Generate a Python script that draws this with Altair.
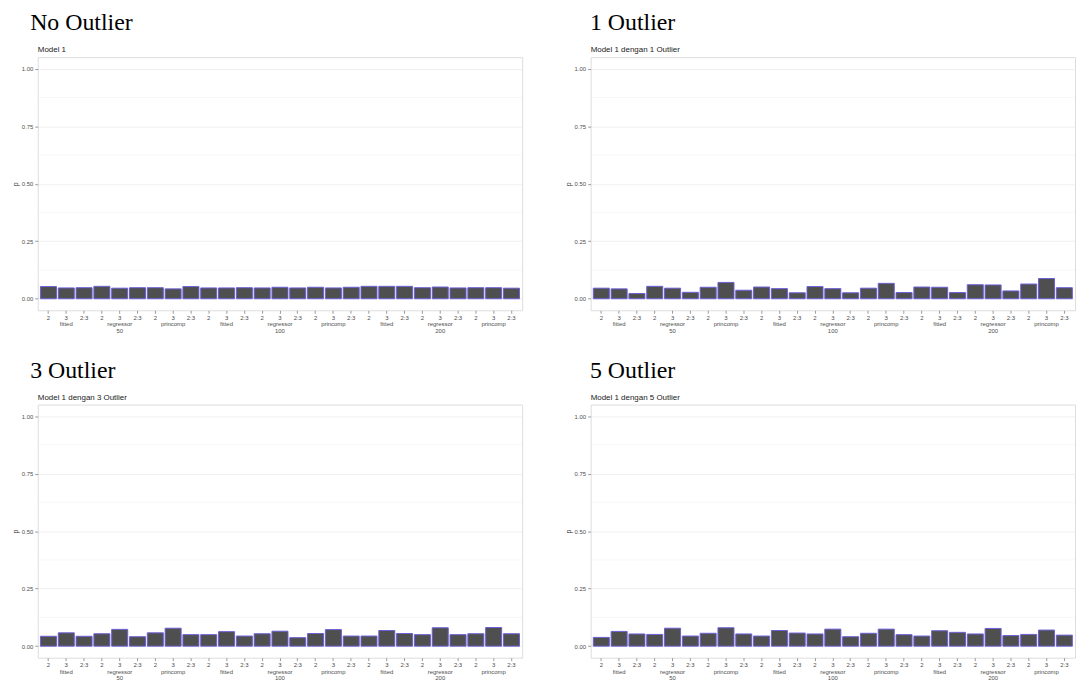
import altair as alt
import pandas as pd

panel_titles = ["No Outlier", "1 Outlier", "3 Outlier", "5 Outlier"]
panel_subtitles = ["Model 1", "Model 1 dengan 1 Outlier",
                   "Model 1 dengan 3 Outlier", "Model 1 dengan 5 Outlier"]
terms = ["2", "3", "2:3"]
methods = ["fitted", "regressor", "princomp"]
sizes = ["50", "100", "200"]

p_none = [0.053, 0.047, 0.048, 0.054, 0.046, 0.048, 0.048, 0.043, 0.053,
          0.047, 0.047, 0.048, 0.047, 0.050, 0.047, 0.050, 0.047, 0.050,
          0.054, 0.054, 0.054, 0.048, 0.051, 0.047, 0.048, 0.048, 0.046]
p_one = [0.046, 0.043, 0.023, 0.054, 0.046, 0.028, 0.050, 0.071, 0.037,
         0.051, 0.044, 0.026, 0.053, 0.044, 0.026, 0.046, 0.067, 0.027,
         0.051, 0.050, 0.027, 0.061, 0.060, 0.034, 0.064, 0.088, 0.048]
p_three = [0.043, 0.058, 0.043, 0.054, 0.073, 0.041, 0.058, 0.078, 0.050,
           0.050, 0.063, 0.044, 0.054, 0.065, 0.037, 0.055, 0.072, 0.044,
           0.044, 0.068, 0.055, 0.050, 0.080, 0.050, 0.054, 0.081, 0.054]
p_five = [0.038, 0.064, 0.053, 0.051, 0.078, 0.044, 0.056, 0.080, 0.053,
          0.044, 0.068, 0.057, 0.053, 0.074, 0.041, 0.056, 0.074, 0.050,
          0.044, 0.067, 0.060, 0.053, 0.077, 0.046, 0.051, 0.070, 0.048]

y_ticks = [0.0, 0.25, 0.5, 0.75, 1.0]
minor_grid = [0.125, 0.375, 0.625, 0.875]

W = 488
H = 255


def make_panel(title, subtitle, values, title_dx):
    rows = []
    i = 0
    for s in sizes:
        for m in methods:
            for t in terms:
                lines = [t]
                if t == "3":
                    lines.append(m)
                    if m == "regressor":
                        lines.append(s)
                key = f"{i:02d}|" + "|".join(lines)
                rows.append({"key": key, "p": values[i]})
                i += 1
    df = pd.DataFrame(rows)

    yscale = alt.Scale(domain=[-0.05, 1.05], nice=False, zero=False)
    xscale = alt.Scale(paddingInner=0.1, paddingOuter=0.15)

    grid = alt.Chart(pd.DataFrame({"p": minor_grid})).mark_rule(
        color="#f2f2f2", strokeWidth=0.6
    ).encode(y=alt.Y("p:Q", scale=yscale))

    bars = alt.Chart(df).mark_bar(
        color="#4f4f4f", stroke="#6a5fd8", strokeWidth=1
    ).encode(
        x=alt.X("key:O", sort="ascending", scale=xscale,
                axis=alt.Axis(title=None, labelAngle=0, labelFontSize=6,
                              labelColor="#4d4d4d", labelLineHeight=6.5,
                              labelExpr="slice(split(datum.value, '|'), 1)",
                              labelOverlap=False, labelPadding=1,
                              tickSize=3, tickColor="#999999", domain=False,
                              grid=False)),
        y=alt.Y("p:Q", scale=yscale,
                axis=alt.Axis(title="p", values=y_ticks, format=".2f",
                              labelFontSize=6, labelColor="#4d4d4d",
                              titleFontSize=7, titleFontWeight="normal",
                              titleColor="#333333", titlePadding=3,
                              tickSize=3, tickColor="#999999", domain=False,
                              grid=True, gridColor="#ececec",
                              gridWidth=0.8)),
        y2=alt.datum(0),
    )

    sub = alt.Chart(pd.DataFrame({"t": [subtitle]})).mark_text(
        align="left", baseline="bottom", fontSize=8,
        font="Liberation Sans", color="#222222"
    ).encode(x=alt.value(0), y=alt.value(-3), text="t:N")

    return alt.layer(grid, bars, sub).properties(
        width=W, height=H,
        title=alt.TitleParams(text=title, anchor="start", frame="bounds",
                              font="Liberation Serif, Times New Roman, serif",
                              fontSize=24,
                              fontWeight="normal", color="black",
                              dx=title_dx, dy=-4, offset=7),
    )


c0 = make_panel(panel_titles[0], panel_subtitles[0], p_none, 19)
c1 = make_panel(panel_titles[1], panel_subtitles[1], p_one, 26)
c2 = make_panel(panel_titles[2], panel_subtitles[2], p_three, 19)
c3 = make_panel(panel_titles[3], panel_subtitles[3], p_five, 26)

chart = alt.vconcat(
    alt.hconcat(c0, c1, spacing=40),
    alt.hconcat(c2, c3, spacing=40),
    spacing=24,
).properties(
    padding={"left": 2, "top": 0, "right": 0, "bottom": 0}
).configure_view(
    stroke="#999999", strokeWidth=1, fill="white"
).configure(background="white")

chart.save("out.html", embed_options={"renderer": "svg", "actions": False})
